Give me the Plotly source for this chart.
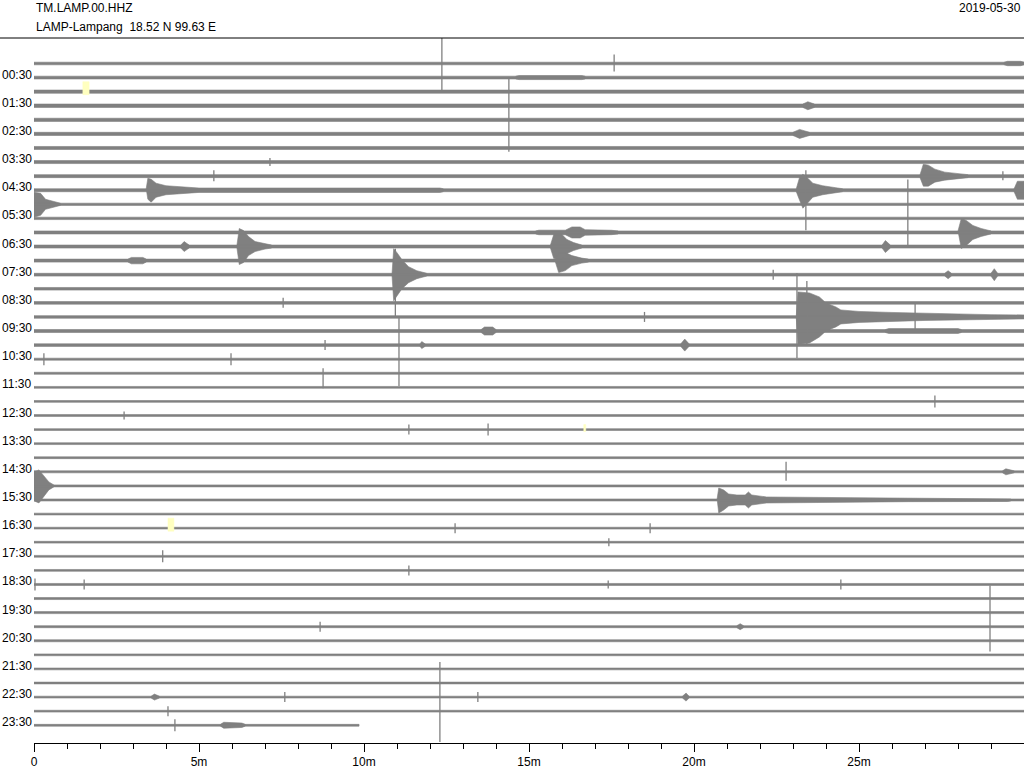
import plotly.graph_objects as go

# ---------------- data read from the helicorder ----------------
STATION = "TM.LAMP.00.HHZ"
SITE = "LAMP-Lampang  18.52 N 99.63 E"
DATE = "2019-05-30"

ROW_LABELS = ["00:30", "01:30", "02:30", "03:30", "04:30", "05:30", "06:30", "07:30",
              "08:30", "09:30", "10:30", "11:30", "12:30", "13:30", "14:30", "15:30",
              "16:30", "17:30", "18:30", "19:30", "20:30", "21:30", "22:30", "23:30"]
X_TICK_VALUES = [0, 5, 10, 15, 20, 25]
X_TICK_TEXT = ["0", "5m", "10m", "15m", "20m", "25m"]

N_ROWS = 48
ROW_MINUTES = 30.0
LAST_ROW_END = 9.85          # the last half-hour row stops early
ROW_GAP = 14.08              # counts between row baselines

# background noise half-amplitude of every row (counts)
NOISE = [1.3, 1.4, 1.6, 1.7, 1.6, 1.6, 1.5, 1.5, 1.5, 1.5,
         1.1, 1.2, 1.5, 1.5, 1.5, 1.4, 1.3, 1.3, 1.3, 1.5,
         1.3, 1.0, 1.0, 0.9, 0.9, 0.9, 0.9, 0.9, 0.9, 1.0,
         1.0, 1.0, 0.9, 0.9, 0.9, 0.9, 0.9, 1.0, 1.0, 1.0,
         1.0, 1.0, 0.9, 0.9, 0.9, 0.9, 0.9, 0.9]

# events: (row, [(minute, amplitude up, amplitude down), ...])
EVENTS = [
    (0, [(29.4, 1.3, 1.3), (29.5, 2.2, 2.2), (29.9, 2.2, 2.2), (30, 1.3, 1.3)]),
    (1, [(14.6, 1.4, 1.4), (14.7, 2.0, 2.0), (16.6, 2.0, 2.0), (16.7, 1.4, 1.4)]),
    (3, [(23.3, 1.7, 1.7), (23.45, 4, 4), (23.65, 1.7, 1.7)]),
    (5, [(23.0, 1.6, 1.6), (23.2, 4.5, 4.5), (23.5, 1.6, 1.6)]),
    (8, [(26.85, 1.5, 1.5), (26.95, 12, 10), (27.1, 11, 10), (27.3, 7, 6), (27.6, 4, 4), (28.0, 2.5, 2.5), (28.3, 1.5, 1.5)]),
    (9, [(3.4, 1.5, 1.5), (3.45, 12, 9), (3.55, 11, 12), (3.7, 7, 7), (4.0, 4.5, 4.5), (4.6, 3.2, 3.2), (5.0, 2.2, 2.2), (12.3, 2.2, 2.2), (12.4, 1.5, 1.5)]),
    (9, [(23.1, 1.5, 1.5), (23.2, 13, 10), (23.3, 16, 18), (23.45, 12, 13), (23.6, 7, 7), (23.9, 4.5, 4.5), (24.3, 2.5, 2.5), (24.5, 1.5, 1.5)]),
    (9, [(29.7, 1.5, 1.5), (29.8, 9, 9), (30, 9, 9)]),
    (10, [(0, 12, 13), (0.2, 11, 11), (0.35, 5, 5), (0.6, 2.5, 2.5), (0.8, 1.1, 1.1)]),
    (12, [(15.2, 1.5, 1.5), (15.3, 2.3, 2.3), (16.1, 2.3, 2.3), (16.3, 5.5, 5.5), (16.55, 5.5, 5.5), (16.7, 2.8, 2.8), (17.5, 2.2, 2.2), (17.7, 1.5, 1.5)]),
    (12, [(28.0, 1.5, 1.5), (28.1, 14, 16), (28.25, 12, 13), (28.45, 7, 7), (28.7, 4, 4), (29.0, 1.5, 1.5)]),
    (13, [(4.45, 1.5, 1.5), (4.55, 5, 5), (4.7, 1.5, 1.5)]),
    (13, [(6.15, 1.5, 1.5), (6.22, 18, 18), (6.35, 16, 16), (6.5, 10, 9), (6.7, 5, 5), (7.0, 2.5, 2.5), (7.2, 1.5, 1.5)]),
    (13, [(15.65, 1.5, 1.5), (15.75, 12, 12), (16.0, 12, 12), (16.15, 7, 7), (16.35, 4, 4), (16.6, 1.5, 1.5)]),
    (13, [(25.7, 1.5, 1.5), (25.8, 6, 6), (25.95, 1.5, 1.5)]),
    (14, [(2.85, 1.5, 1.5), (2.95, 3.2, 3.2), (3.3, 3.2, 3.2), (3.4, 1.5, 1.5)]),
    (14, [(15.8, 1.5, 1.5), (15.9, 8, 12), (16.1, 8, 10), (16.3, 5, 5), (16.6, 2.5, 2.5), (16.8, 1.5, 1.5)]),
    (15, [(10.85, 1.4, 1.4), (10.9, 26, 26), (11.0, 22, 22), (11.15, 15, 14), (11.35, 8, 8), (11.6, 4, 4), (11.9, 1.4, 1.4)]),
    (15, [(27.6, 1.4, 1.4), (27.7, 4, 4), (27.8, 1.4, 1.4)]),
    (15, [(29.0, 1.4, 1.4), (29.1, 6, 6), (29.2, 1.4, 1.4)]),
    (18, [(23.1, 1.3, 1.3), (23.15, 25, 27), (23.5, 24, 26), (23.8, 20, 20), (24.0, 14, 14), (24.3, 10, 10), (24.45, 7, 7),
          (25.0, 5.5, 5.5), (26.0, 4.5, 4.5), (27.0, 3.5, 3.5), (28.0, 3, 3), (29.0, 2.3, 2.3), (30, 2.0, 2.0)]),
    (19, [(13.55, 1.5, 1.5), (13.65, 4, 4), (13.9, 4, 4), (14.0, 1.5, 1.5)]),
    (19, [(25.8, 1.5, 1.5), (25.9, 2.4, 2.4), (28.0, 2.4, 2.4), (28.1, 1.5, 1.5)]),
    (20, [(11.7, 1.3, 1.3), (11.75, 3.5, 3.5), (11.85, 1.3, 1.3)]),
    (20, [(19.6, 1.3, 1.3), (19.72, 6, 6), (19.85, 1.3, 1.3)]),
    (29, [(29.35, 1.0, 1.0), (29.45, 3, 3), (29.7, 1.0, 1.0)]),
    (30, [(0, 14, 15), (0.15, 16, 17), (0.3, 10, 10), (0.45, 4, 4), (0.6, 1.0, 1.0)]),
    (31, [(20.7, 1.0, 1.0), (20.75, 12, 13), (20.9, 10, 10), (21.05, 6, 6), (21.3, 5, 5), (21.55, 5, 5), (21.65, 8, 8),
          (21.75, 5, 5), (22.2, 3, 3), (24.0, 2.6, 2.6), (25.4, 2.2, 2.2), (26.5, 1.7, 1.7), (29.5, 1.5, 1.5), (29.6, 1.0, 1.0)]),
    (40, [(21.3, 1.0, 1.0), (21.4, 3, 3), (21.5, 1.0, 1.0)]),
    (45, [(3.55, 0.9, 0.9), (3.65, 3, 3), (3.8, 0.9, 0.9)]),
    (45, [(19.65, 0.9, 0.9), (19.76, 4, 4), (19.85, 0.9, 0.9)]),
    (47, [(5.65, 0.9, 0.9), (5.75, 3, 3), (6.3, 2.2, 2.2), (6.4, 0.9, 0.9)]),
]

# single spikes: (row, minute, amplitude up, amplitude down)
SPIKES = [
    (0, 12.36, 28, 27), (0, 17.58, 9, 8), (4, 14.39, 42, 32), (7, 7.15, 4, 4),
    (8, 5.45, 6, 5), (8, 29.36, 5, 4), (9, 23.39, 20, 40), (11, 26.48, 39, 28),
    (15, 10.95, 26, 43), (15, 22.4, 5, 5), (17, 7.55, 5, 5), (18, 23.12, 44, 41),
    (18, 23.42, 36, 28), (18, 26.7, 14, 13), (18, 18.5, 5, 5), (20, 11.06, 27, 41),
    (20, 8.82, 5, 5), (21, 0.3, 6, 6), (21, 5.97, 6, 6), (22, 8.76, 5, 15),
    (24, 27.3, 6, 6), (25, 2.73, 4, 4), (26, 11.36, 5, 5), (26, 13.76, 6, 6),
    (29, 22.79, 10, 9), (33, 12.76, 5, 5), (33, 18.67, 5, 5), (34, 17.42, 4, 4),
    (35, 3.9, 6, 6), (36, 11.36, 5, 5), (37, 0.03, 6, 6), (37, 1.52, 5, 5),
    (37, 17.4, 4, 4), (37, 24.45, 5, 5), (39, 28.97, 27, 39), (40, 8.67, 5, 5),
    (45, 12.3, 35, 45), (45, 7.6, 5, 5), (45, 13.45, 5, 5), (46, 4.06, 5, 5),
    (47, 4.27, 6, 6),
]

# data gaps marked in yellow: (row, start minute, end minute, up, down)
GAPS = [(2, 1.48, 1.67, 10, 3), (33, 4.06, 4.24, 10, 3), (26, 16.66, 16.72, 5, 2)]

# ---------------- figure ----------------
TRACE_COLOR = "#808080"
FONT = "Liberation Sans, Arial, Helvetica, sans-serif"


def base(row):
    return row * ROW_GAP


poly_x, poly_y = [], []
for r in range(N_ROWS):
    end = LAST_ROW_END if r == N_ROWS - 1 else ROW_MINUTES
    c, n = base(r), NOISE[r]
    poly_x += [0, end, end, 0, 0, None]
    poly_y += [c - n, c - n, c + n, c + n, c - n, None]

for r, pts in EVENTS:
    c = base(r)
    xs = [p[0] for p in pts] + [p[0] for p in reversed(pts)]
    ys = [c - p[1] for p in pts] + [c + p[2] for p in reversed(pts)]
    poly_x += xs + [xs[0], None]
    poly_y += ys + [ys[0], None]

fig = go.Figure()
fig.add_trace(go.Scatter(x=poly_x, y=poly_y, mode="lines", fill="toself",
                         fillcolor=TRACE_COLOR, line=dict(color=TRACE_COLOR, width=0.6),
                         hoverinfo="skip", showlegend=False))

sx, sy = [], []
for r, m, up, dn in SPIKES:
    c = base(r)
    sx += [m, m, None]
    sy += [c - up, c + dn, None]
fig.add_trace(go.Scatter(x=sx, y=sy, mode="lines", line=dict(color=TRACE_COLOR, width=1.3),
                         hoverinfo="skip", showlegend=False))

gx, gy = [], []
for r, m0, m1, up, dn in GAPS:
    c = base(r)
    gx += [m0, m1, m1, m0, m0, None]
    gy += [c - up, c - up, c + dn, c + dn, c - up, None]
fig.add_trace(go.Scatter(x=gx, y=gy, mode="lines", fill="toself", fillcolor="#ffffc0",
                         line=dict(color="#ffffc0", width=0.5), hoverinfo="skip", showlegend=False))

# geometry of the page
L, T, B, W, H = 34, 38, 25, 1024, 768
plot_w = W - L
plot_h = H - T - B
first_row_px = 63.5
y_top = -(first_row_px - T)
y_bottom = y_top + plot_h

annotations = []
for k, lab in enumerate(ROW_LABELS):
    row = 2 * k + 1
    annotations.append(dict(x=-L / plot_w, xref="paper", xanchor="left", y=base(row), yref="y",
                            yanchor="middle", yshift=3, text=lab, showarrow=False,
                            font=dict(family=FONT, size=12, color="black")))


def paper_y(px):
    return 1 + (T - px) / plot_h


annotations += [
    dict(x=0, xref="paper", xanchor="left", y=paper_y(8), yref="paper", yanchor="middle",
         text=STATION, showarrow=False, font=dict(family=FONT, size=12, color="black")),
    dict(x=0, xref="paper", xanchor="left", y=paper_y(27), yref="paper", yanchor="middle",
         text=SITE, showarrow=False, font=dict(family=FONT, size=12, color="black")),
    dict(x=1 - 1 / plot_w, xref="paper", xanchor="right", y=paper_y(8), yref="paper", yanchor="middle",
         text=DATE, showarrow=False, font=dict(family=FONT, size=12, color="black")),
]

fig.update_layout(
    width=W, height=H,
    margin=dict(l=L, r=0, t=T, b=B, pad=0),
    paper_bgcolor="white", plot_bgcolor="white",
    showlegend=False,
    annotations=annotations,
    shapes=[dict(type="line", xref="paper", yref="paper", x0=-L / plot_w, x1=1, y0=1, y1=1,
                 line=dict(color="black", width=1))],
    xaxis=dict(range=[0, ROW_MINUTES], showline=True, linecolor="black", linewidth=1,
               ticks="outside", ticklen=8, tickwidth=1, tickcolor="black",
               tickmode="array", tickvals=X_TICK_VALUES, ticktext=X_TICK_TEXT,
               tickfont=dict(family=FONT, size=12, color="black"),
               showgrid=False, zeroline=False, fixedrange=True,
               minor=dict(tickmode="linear", tick0=0, dtick=1, ticks="outside", ticklen=5,
                          tickcolor="black", tickwidth=1, showgrid=False)),
    yaxis=dict(range=[y_bottom, y_top], visible=False, showgrid=False, zeroline=False, fixedrange=True),
)

fig.write_html("out.html", config={"displayModeBar": False},
               post_script="document.body.style.margin='0px';document.body.style.overflow='hidden';")
